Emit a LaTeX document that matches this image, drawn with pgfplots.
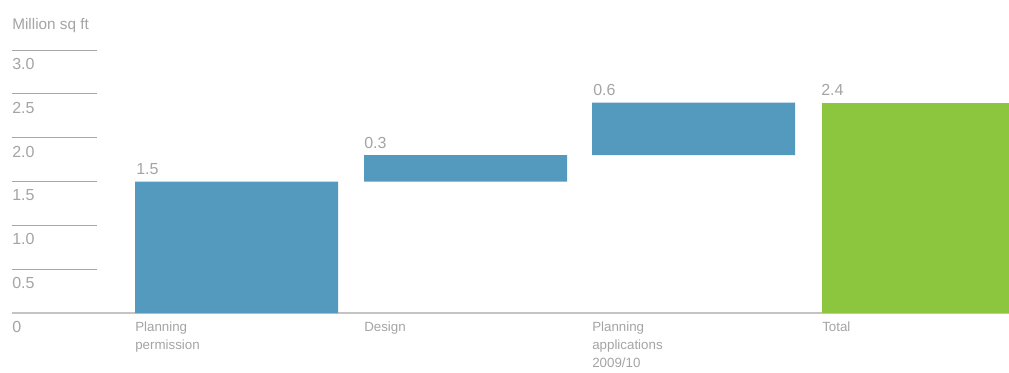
\documentclass[border=0pt]{standalone}
\usepackage{pgfplots}
\pgfplotsset{compat=1.18}
\usepackage{fontspec}
\setmainfont{Liberation Sans}
\definecolor{barblue}{HTML}{5499BE}
\definecolor{bargreen}{HTML}{8CC63F}
\definecolor{txtgray}{HTML}{A4A4A4}
\definecolor{linegray}{HTML}{A8A8A8}
\definecolor{basegray}{HTML}{C4C4C4}
\begin{document}
\begin{tikzpicture}[x=0.75pt,y=0.75pt]
\useasboundingbox (0,-59) rectangle (1009,313);
\begin{axis}[
  at={(12,0)}, anchor=south west,
  scale only axis, width=747.75pt, height=197.25pt,
  xmin=12, xmax=1009, ymin=0, ymax=3,
  clip mode=individual,
  axis x line*=bottom, axis y line*=left,
  x axis line style={draw=basegray, line width=1.5pt, -},
  y axis line style={draw=none},
  ybar stacked, bar width=203,
  ytick={0,0.5,1,1.5,2,2.5,3},
  yticklabels={0,0.5,1.0,1.5,2.0,2.5,3.0},
  tick align=inside,
  major tick length=63.75pt,
  ytick style={draw=linegray, line width=0.75pt},
  xtick style={draw=none},
  yticklabel style={anchor=north west, inner sep=0pt, xshift=0pt, yshift=-6pt,
     font=\fontsize{12}{14}\selectfont, text=txtgray},
  xtick={135,364,592,822},
  xticklabels={{Planning\\permission},{Design},{Planning\\applications\\2009/10},{Total}},
  xticklabel style={anchor=north west, align=left, inner sep=0pt, yshift=-6.5pt,
     font=\fontsize{10}{13.5}\selectfont, text=txtgray},
]
% invisible base of the waterfall
\addplot[draw=none, fill=none] coordinates {(236.5,0) (465.5,1.5) (693.5,1.8) (923.5,0)};
% changes
\addplot[draw=none, fill=barblue] coordinates {(236.5,1.5) (465.5,0.3) (693.5,0.6) (923.5,0)};
% total
\addplot[draw=none, fill=bargreen] coordinates {(236.5,0) (465.5,0) (693.5,0) (923.5,2.4)};

\node[anchor=base west, inner sep=0pt, text=txtgray, font=\fontsize{12}{14}\selectfont, yshift=5pt] at (axis cs:136,1.5) {1.5};
\node[anchor=base west, inner sep=0pt, text=txtgray, font=\fontsize{12}{14}\selectfont, yshift=5pt] at (axis cs:364,1.8) {0.3};
\node[anchor=base west, inner sep=0pt, text=txtgray, font=\fontsize{12}{14}\selectfont, yshift=5.5pt] at (axis cs:593,2.4) {0.6};
\node[anchor=base west, inner sep=0pt, text=txtgray, font=\fontsize{12}{14}\selectfont, yshift=5.5pt] at (axis cs:821,2.4) {2.4};
\node[anchor=base west, inner sep=0pt, text=txtgray, font=\fontsize{11.5}{13}\selectfont, yshift=15.75pt] at (axis cs:12,3) {Million sq ft};
\end{axis}
\end{tikzpicture}
\end{document}
